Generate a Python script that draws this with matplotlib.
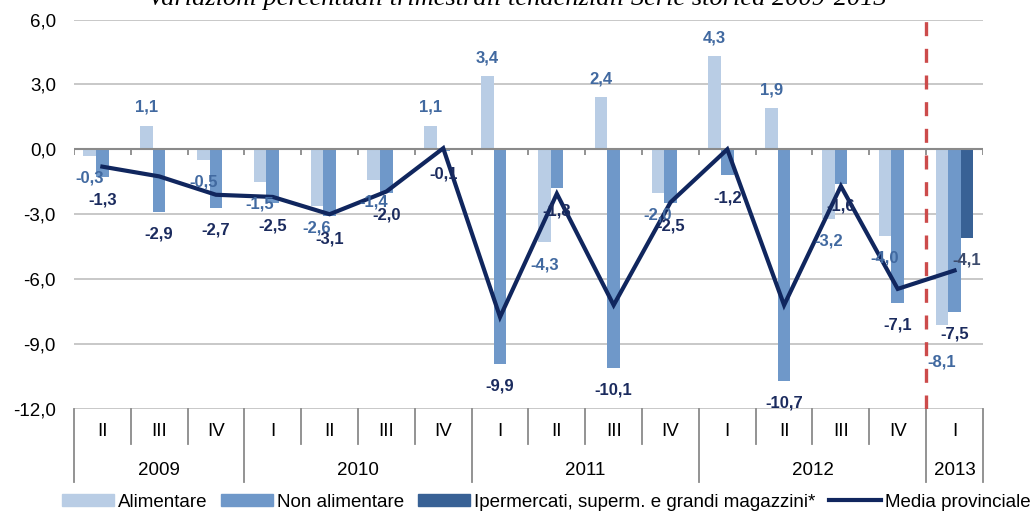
"""Variazioni percentuali trimestrali tendenziali, serie storica 2009-2013."""

import matplotlib
matplotlib.use("Agg")
import matplotlib.pyplot as plt
from matplotlib.lines import Line2D
from matplotlib.patches import Patch
import numpy as np

plt.rcParams["font.family"] = ["Liberation Sans", "DejaVu Sans"]

QUARTERS = ["II", "III", "IV", "I", "II", "III", "IV", "I", "II", "III", "IV",
            "I", "II", "III", "IV", "I"]
YEARS = ["2009", "2010", "2011", "2012", "2013"]
YEAR_SIZES = [3, 4, 4, 4, 1]

alimentare = [-0.3, 1.1, -0.5, -1.5, -2.6, -1.4, 1.1, 3.4, -4.3, 2.4, -2.0,
              4.3, 1.9, -3.2, -4.0, -8.1]
non_alimentare = [-1.3, -2.9, -2.7, -2.5, -3.1, -2.0, -0.1, -9.9, -1.8, -10.1,
                  -2.5, -1.2, -10.7, -1.6, -7.1, -7.5]
ipermercati = [np.nan] * 15 + [-4.1]
media = [-0.8, -1.25, -2.1, -2.2, -3.0, -1.95, 0.05, -7.75, -2.05, -7.2,
         -2.45, 0.0, -7.2, -1.7, -6.45, -5.6]

LABELS = ["Alimentare", "Non alimentare",
          "Ipermercati, superm. e grandi magazzini*", "Media provinciale"]
TITLE = "Variazioni percentuali trimestrali tendenziali Serie storica 2009-2013"

C_ALI = "#b9cde5"
C_NON = "#6f98c9"
C_IPER = "#386195"
C_LINE = "#10265e"
C_GRID = "#bfbfbf"
C_AXIS = "#8a8a8a"
LBL_ALI = "#4169a0"
LBL_NON = "#1b2b5e"
LBL_IPER = "#3c4b6c"


def fmt(v):
    return f"{v:.1f}".replace(".", ",")


fig = plt.figure(figsize=(10.3, 5.12), dpi=100)
ax = fig.add_axes([0.0718, 0.2012, 0.8825, 0.7607])

x = np.arange(len(QUARTERS))
w = 0.222

ax.bar(x - w, alimentare, w, color=C_ALI, zorder=2)
ax.bar(x, non_alimentare, w, color=C_NON, zorder=2)
ax.bar(x + w, ipermercati, w, color=C_IPER, zorder=2)
ax.plot(x, media, color=C_LINE, lw=3, solid_joinstyle="miter", zorder=4)


# etichette dati
def label_bars(xs, vals, color, special=None):
    for i, (xi, v) in enumerate(zip(xs, vals)):
        if np.isnan(v):
            continue
        off = 13 if v > 0 else -16
        if special and i in special:
            off = special[i]
        ax.annotate(fmt(v), (xi, v), xytext=(0, off), textcoords="offset points",
                    ha="center", va="center", fontsize=12, fontweight="bold",
                    color=color, zorder=5)


label_bars(x - w, alimentare, LBL_ALI, special={15: -27})
label_bars(x, non_alimentare, LBL_NON)
label_bars(x + w, ipermercati, LBL_IPER)

# linea tratteggiata rossa prima del 2013
ax.axvline(14.5, color="#cc4b4b", lw=2.4, dashes=(4.2, 3.8), zorder=3)

ax.set_xlim(-0.5, len(QUARTERS) - 0.5)
ax.set_ylim(-12, 6)
ax.set_yticks(np.arange(-12, 7, 3))
ax.set_yticklabels([fmt(v) for v in np.arange(-12, 7, 3)], fontsize=13.5)
ax.tick_params(axis="y", length=0, pad=13)
ax.set_xticks([])
ax.yaxis.grid(True, color=C_GRID, lw=1.2, zorder=0)
ax.set_axisbelow(True)
for s in ax.spines.values():
    s.set_visible(False)

# asse delle categorie a quota 0
ax.axhline(0, color=C_AXIS, lw=1.5, zorder=3)
bounds = np.arange(len(QUARTERS) + 1) - 0.5
ax.vlines(bounds, -0.25, 0, color=C_AXIS, lw=1.3, zorder=3)

# tabella categorie sotto il grafico
trans = ax.get_xaxis_transform()
year_edges = np.concatenate([[0], np.cumsum(YEAR_SIZES)]) - 0.5
for b in bounds:
    y_end = -0.187 if b in year_edges else -0.09
    ax.plot([b, b], [0, y_end], transform=trans, color=C_AXIS, lw=1.3,
            clip_on=False)
for xi, q in zip(x, QUARTERS):
    ax.text(xi, -0.059, q, transform=trans, ha="center", va="center",
            fontsize=13.5)
for i, yr in enumerate(YEARS):
    cx = (year_edges[i] + year_edges[i + 1]) / 2
    ax.text(cx, -0.157, yr, transform=trans, ha="center", va="center",
            fontsize=13.5)

fig.text(0.502, 0.991, TITLE, ha="center", va="baseline", fontsize=19,
         style="italic", family="Liberation Serif")

handles = [Patch(color=C_ALI), Patch(color=C_NON), Patch(color=C_IPER),
           Line2D([], [], color=C_LINE, lw=3)]
fig.legend(handles, LABELS, loc="center", bbox_to_anchor=(0.5306, 0.0195),
           ncol=4, frameon=False, fontsize=13.5, handlelength=2.77,
           handleheight=0.6, handletextpad=0.2, columnspacing=0.75,
           borderpad=0, borderaxespad=0)

fig.savefig("out.png", dpi=100)
